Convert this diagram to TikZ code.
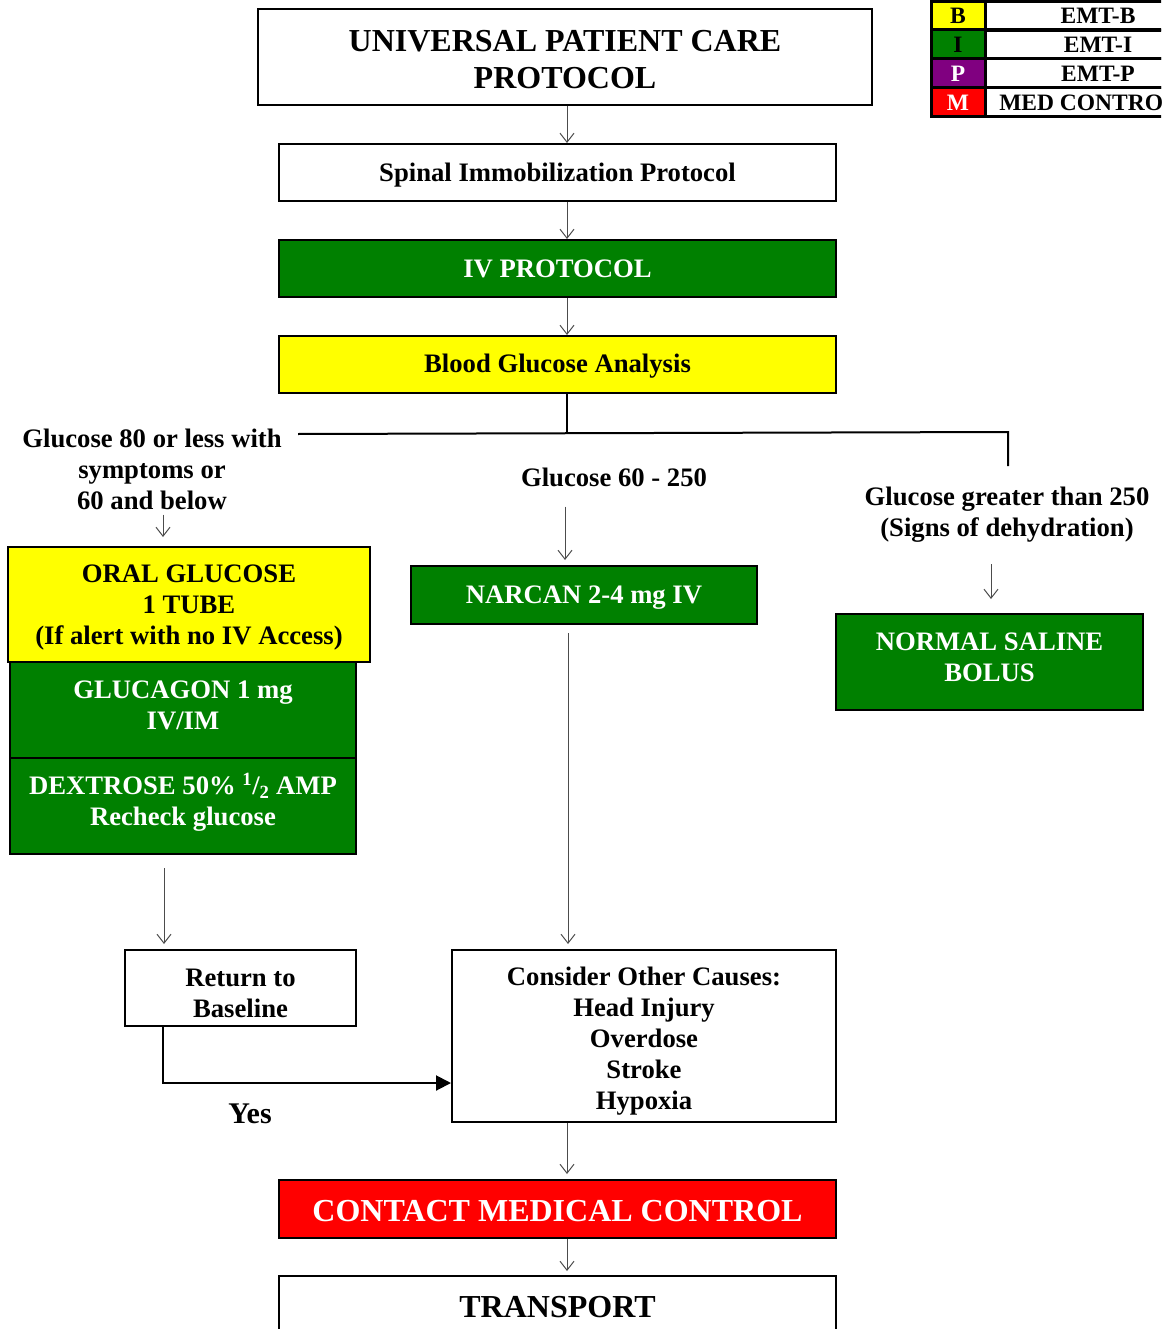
\documentclass[tikz,border=0pt]{standalone}
\usepackage{fontspec}
\setmainfont{Liberation Serif}
\usetikzlibrary{positioning,calc,arrows.meta}

\definecolor{protgreen}{RGB}{0,128,0}
\definecolor{protyellow}{RGB}{255,255,0}
\definecolor{protred}{RGB}{255,0,0}
\definecolor{protpurple}{RGB}{128,0,128}

\newcommand{\bodyfont}{\bfseries\fontsize{26.67}{31}\selectfont}
\newcommand{\bigfont}{\bfseries\fontsize{32}{37}\selectfont}
\newcommand{\legfont}{\bfseries\fontsize{23.5}{26}\selectfont}

\tikzset{
  stepbox/.style={draw, line width=2pt, inner sep=0pt},
  greenbox/.style={stepbox, fill=protgreen},
  yellowbox/.style={stepbox, fill=protyellow},
  redbox/.style={stepbox, fill=protred},
  plain/.style={align=center, inner sep=0pt, font=\bodyfont},
  whitetxt/.style={plain, text=white},
  flow/.style={draw=black!70, line width=1pt, -{Straight Barb[length=9pt,width=14pt]}},
  branch/.style={line width=2pt},
  yesline/.style={line width=2pt, -{Triangle[length=15pt,width=15pt]}},
  legcell/.style={draw, line width=3pt, inner sep=0pt, minimum height=29pt, font=\legfont}
}

\begin{document}
\begin{tikzpicture}[x=1pt,y=-1pt]
  \useasboundingbox (0,0) rectangle (1161,1329);
  \clip (0,0) rectangle (1161,1329);

  % main column
  \node[stepbox, minimum width=614, minimum height=96] (title) at (565,57) {};
  \node[plain, font=\bigfont] (titletxt) at (565,60) {UNIVERSAL PATIENT CARE\\PROTOCOL};
  \node[stepbox, minimum width=557, minimum height=57] (spinal) at (557.5,172.5) {};
  \node[plain] (spinaltxt) at (557.5,175.5) {Spinal Immobilization Protocol};
  \node[greenbox, minimum width=557, minimum height=57] (iv) at (557.5,268.5) {};
  \node[whitetxt] (ivtxt) at (557.5,268.5) {IV PROTOCOL};
  \node[yellowbox, minimum width=557, minimum height=57] (bga) at (557.5,364.5) {};
  \node[plain] (bgatxt) at (557.5,366.5) {Blood Glucose Analysis};

  \coordinate (spine) at (567,0);
  \draw[flow] (title.south -| spine) -- (spinal.north -| spine);
  \draw[flow] (spinal.south -| spine) -- (iv.north -| spine);
  \draw[flow] (iv.south -| spine) -- (bga.north -| spine);

  % branches
  \coordinate (brL) at (298,434);
  \coordinate (brM) at (567,433);
  \coordinate (brR) at (1008,432);
  \coordinate (brRend) at (1008,466);
  \draw[branch] (bga.south -| brM) -- (brM);
  \draw[branch] (brL) -- (brR) -- (brRend);

  % low glucose
  \node[plain] (lowlbl) at (152,469) {Glucose 80 or less with\\symptoms or\\60 and below};
  \node[yellowbox, minimum width=362, minimum height=115] (oral) at (189,604.5) {};
  \node[plain] (oraltxt) at (189,608) {ORAL GLUCOSE\\1 TUBE\\(If alert with no IV Access)};
  \node[greenbox, minimum width=346, minimum height=96] (glucagon) at (183,710) {};
  \node[whitetxt] (glucagontxt) at (183,705.5) {GLUCAGON 1 mg\\IV/IM};
  \node[greenbox, minimum width=346, minimum height=96] (dextrose) at (183,806) {};
  \node[whitetxt] (dextrosetxt) at (183,802.5)
    {DEXTROSE 50\% \textsuperscript{1}/\textsubscript{2} AMP\\Recheck glucose};
  \node[stepbox, minimum width=231, minimum height=76] (ret) at (240.5,988) {};
  \node[plain] (rettxt) at (240.5,993) {Return to\\Baseline};
  \draw[flow, shorten <=5pt, shorten >=9pt] ($(lowlbl.south)+(11,0)$) -- ($(oral.north)+(-26,0)$);
  \draw[flow, shorten <=13pt, shorten >=5pt] ($(dextrose.south)+(-19,0)$) -- ($(ret.north)+(-76.5,0)$);

  % mid glucose
  \node[plain] (midlbl) at (614,477) {Glucose 60 - 250};
  \node[greenbox, minimum width=346, minimum height=58] (narcan) at (584,595) {};
  \node[whitetxt] (narcantxt) at (584,598) {NARCAN 2-4 mg IV};
  \node[stepbox, minimum width=384, minimum height=172] (causes) at (644,1036) {};
  \node[plain] (causestxt) at (644,1041.5)
    {Consider Other Causes:\\Head Injury\\Overdose\\Stroke\\Hypoxia};
  \draw[flow, shorten <=20pt, shorten >=5pt] ($(midlbl.south)+(-49,0)$) -- ($(narcan.north)+(-19,0)$);
  \draw[flow, shorten <=8pt, shorten >=5pt] ($(narcan.south)+(-16,0)$) -- ($(causes.north)+(-76,0)$);

  \draw[yesline] ($(ret.south)+(-77.5,0)$) |- ($(causes.west)+(0,47)$);
  \node[font=\bfseries\fontsize{30}{34}\selectfont, inner sep=0pt] (yes) at (250,1114) {Yes};

  % high glucose
  \node[plain] (highlbl) at (1007,514.5) {Glucose greater than 250\\(Signs of dehydration)};
  \node[greenbox, minimum width=307, minimum height=96] (saline) at (989.5,662) {};
  \node[whitetxt] (salinetxt) at (989.5,657.5) {NORMAL SALINE\\BOLUS};
  \draw[flow, shorten <=22pt, shorten >=14pt] ($(highlbl.south)+(-16,0)$) -- ($(saline.north)+(1.5,0)$);

  % bottom
  \node[redbox, minimum width=557, minimum height=58] (contact) at (557.5,1209) {};
  \node[whitetxt, font=\bigfont] (contacttxt) at (557.5,1211) {CONTACT MEDICAL CONTROL};
  \node[stepbox, minimum width=557, minimum height=60] (transport) at (557.5,1306) {};
  \node[plain, font=\bigfont] (transporttxt) at (557.5,1307) {TRANSPORT};
  \draw[flow, shorten >=5pt] ($(causes.south)+(-77,0)$) -- ($(contact.north)+(9.5,0)$);
  \draw[flow, shorten >=4pt] ($(contact.south)+(9.5,0)$) -- ($(transport.north)+(9.5,0)$);

  % legend
  \node[legcell, fill=protyellow, minimum width=54] (legB) at (958,16) {B};
  \node[legcell, fill=protgreen, minimum width=54] (legI) at (958,44.5) {I};
  \node[legcell, fill=protpurple, text=white, minimum width=54] (legP) at (958,73.5) {P};
  \node[legcell, fill=protred, text=white, minimum width=54] (legM) at (958,102.5) {M};
  \node[legcell, minimum width=226] (txtB) at (1098,16) {EMT-B};
  \node[legcell, minimum width=226] (txtI) at (1098,44.5) {EMT-I};
  \node[legcell, minimum width=226] (txtP) at (1098,73.5) {EMT-P};
  \node[legcell, minimum width=226] (txtM) at (1098,102.5) {MED CONTROL\hspace*{18pt}};
\end{tikzpicture}
\end{document}
